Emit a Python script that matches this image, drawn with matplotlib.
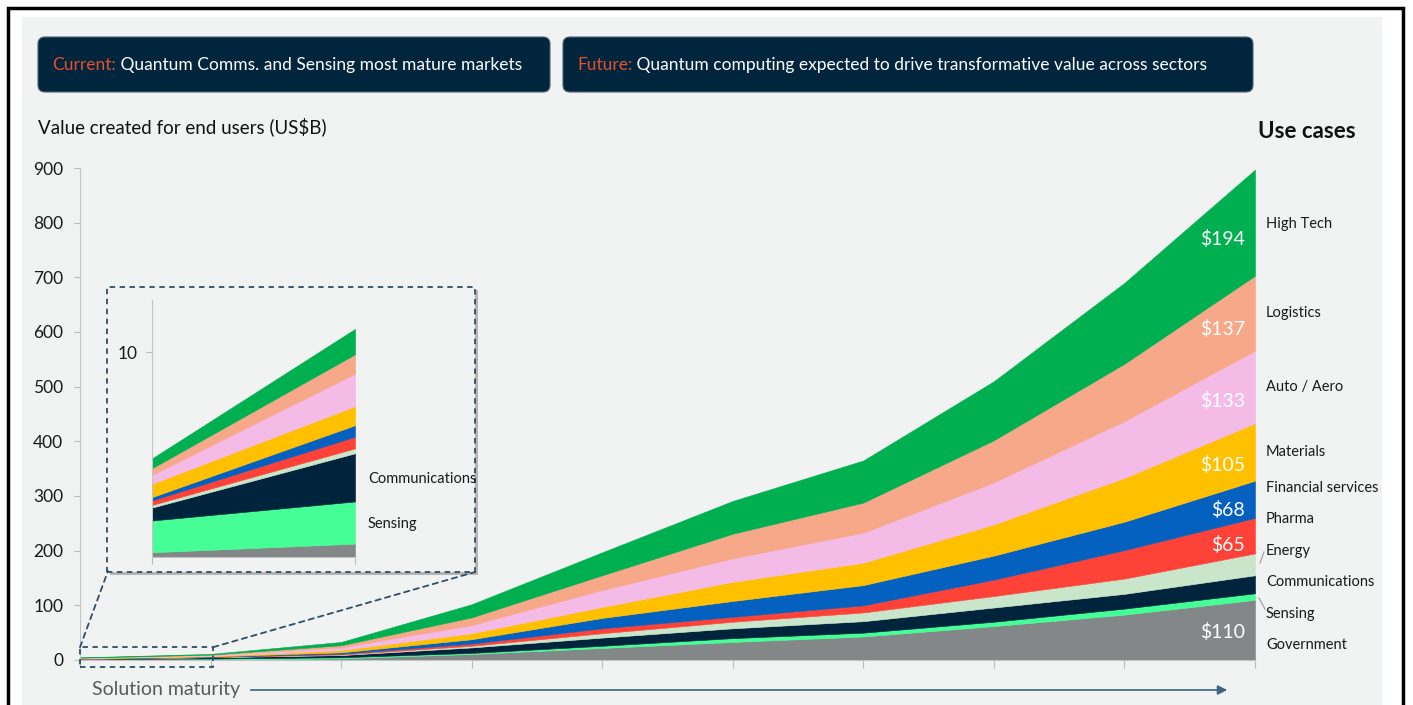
import matplotlib
matplotlib.use('Agg')
import matplotlib.pyplot as plt
import matplotlib.patheffects as pe
from matplotlib.patches import Rectangle, FancyBboxPatch, ConnectionPatch
from matplotlib.lines import Line2D
from matplotlib.transforms import IdentityTransform

plt.rcParams['font.family'] = ['Lato', 'DejaVu Sans']

# Daten: Wert fuer Endnutzer (Mrd. US$) je Reifestufe
stage = list(range(10))
use_cases = ['Government', 'Sensing', 'Communications', 'Energy', 'Pharma',
             'Financial services', 'Materials', 'Auto / Aero', 'Logistics', 'High Tech']
government = [0.23, 0.65, 3, 11, 22, 33, 43, 62, 83, 110]
sensing = [1.55, 2.06, 2, 2, 4, 7, 7, 8, 11, 12]
communications = [0.63, 2.35, 4, 10, 15, 18, 21, 26, 27, 33]
energy = [0.13, 0.24, 1, 3, 8, 12, 16, 21, 28, 40]
pharma = [0.22, 0.57, 1.5, 4, 9, 9, 13, 30, 52, 65]
financial = [0.16, 0.56, 2.5, 8, 19, 29, 37, 44, 52, 68]
materials = [0.65, 0.93, 4, 11, 20, 35, 41, 57, 80, 105]
auto_aero = [0.43, 1.59, 5, 15, 31, 43, 55, 77, 104, 133]
logistics = [0.33, 0.94, 4, 14, 27, 45, 55, 77, 105, 137]
high_tech = [0.48, 1.24, 6, 24, 42, 60, 77, 108, 148, 194]
series = [government, sensing, communications, energy, pharma,
          financial, materials, auto_aero, logistics, high_tech]

colors = ['#848788', '#45FF96', '#00243C', '#C9E6CA', '#FF4238',
          '#0461BF', '#FFC000', '#F3BBE5', '#F7A889', '#00B050']

# welche Endwerte beschriftet werden, und wo im Band (Anteil von unten)
show_value = [True, False, False, False, True, True, True, True, True, True]
value_frac = [0.46, 0, 0, 0, 0.23, 0.2, 0.27, 0.3, 0.29, 0.35]
# Lage der Namen rechts neben der Flaeche (in Mrd. US$)
name_y = [27, 84, 143, 199, 258, 314, 380, 499, 634, 798]

W, H = 1413, 705
def fx(x):
    return x / W
def fy(y):
    return 1 - y / H

fig = plt.figure(figsize=(W / 100, H / 100), dpi=100)
fig.patch.set_facecolor('white')
fig.add_artist(Rectangle((fx(22), 0), fx(1382 - 22), (H - 17) / H, transform=fig.transFigure,
                         facecolor='#F1F2F2', edgecolor='none', zorder=-2))
fig.add_artist(Rectangle((fx(8), fy(720)), fx(1403 - 8), (720 - 8) / H, transform=fig.transFigure,
                         facecolor='none', edgecolor='black', lw=2.5, zorder=-1))

ax = fig.add_axes([fx(80), fy(660), (1255 - 80) / W, (660 - 168) / H])
ax.set_facecolor('none')

# Kopfzeilen-Kaesten
headers = [(38, 550, 'Current:', ' Quantum Comms. and Sensing most mature markets'),
           (563, 1253, 'Future:', ' Quantum computing expected to drive transformative value across sectors')]
for x0, x1, key, rest in headers:
    box = FancyBboxPatch((x0, H - 92), x1 - x0, 55, boxstyle='round,pad=0,rounding_size=7',
                         transform=IdentityTransform(), facecolor='#00253D', edgecolor='#4C6275',
                         lw=0.8, zorder=-0.5)
    fig.add_artist(box)
    t1 = fig.text(fx(x0 + 14), fy(65), key, color='#E8502A', size=12.5, va='center')
    ax.annotate(rest, xy=(1, 0), xycoords=t1, va='bottom', ha='left', color='white',
                size=12.5, annotation_clip=False)

polys = ax.stackplot(stage, series, colors=colors, lw=0.4)
for p in polys:
    p.set_edgecolor(p.get_facecolor())

ax.set_xlim(0, 9)
ax.set_ylim(0, 900)
ax.set_yticks(range(0, 901, 100))
ax.set_xticks(stage)
ax.set_xticklabels([])
for s in ['top', 'right']:
    ax.spines[s].set_visible(False)
for s in ['left', 'bottom']:
    ax.spines[s].set_color('#C4C4C4')
ax.tick_params(axis='y', colors='#BDBDBD', labelcolor='#1A1A1A', labelsize=12.5, length=4, pad=8)
ax.tick_params(axis='x', colors='#BDBDBD', length=6)

# Endwerte und Namen
bottom = 0
for name, vals, show, frac, ny in zip(use_cases, series, show_value, value_frac, name_y):
    v = vals[-1]
    if show:
        ax.annotate(f'${v}', xy=(9, bottom + frac * v), xytext=(-10, 0), textcoords='offset pixels',
                    ha='right', va='center', color='white', size=14, annotation_clip=False)
    ax.annotate(name, xy=(9, ny), xytext=(11, 0), textcoords='offset pixels',
                ha='left', va='center', color='#1A1A1A', size=10.5, annotation_clip=False)
    bottom += v

for (xa, ya), (xb, yb) in [((1260, 563), (1264, 552)), ((1259, 598), (1265, 609))]:
    fig.add_artist(Line2D([fx(xa), fx(xb)], [fy(ya), fy(yb)], transform=fig.transFigure,
                          color='#9A9A9A', lw=0.8))

fig.text(fx(38), fy(127), 'Value created for end users (US$B)', size=13.5, va='center', color='#111111')
fig.text(fx(1258), fy(131), 'Use cases', size=16, weight='bold', va='center', color='#111111')

fig.text(fx(92), fy(690), 'Solution maturity', size=14, va='center', color='#5A5A5A')
fig.add_artist(matplotlib.patches.FancyArrowPatch((fx(248), fy(690)), (fx(1230), fy(690)),
                                                  transform=fig.transFigure, arrowstyle='-|>',
                                                  mutation_scale=14, color='#3B6584', lw=1.2))

# Ausschnitt fuer die ersten beiden Stufen
dash = (0, (3, 2.5))
frame_col = '#2F4F66'
fig.add_artist(Rectangle((fx(107), fy(572)), fx(475 - 107), (572 - 287) / H, transform=fig.transFigure,
                         facecolor='#F1F2F2', edgecolor='none', zorder=1,
                         path_effects=[pe.SimplePatchShadow(offset=(2.5, -2.5), shadow_rgbFace='#777777', alpha=0.5),
                                       pe.Normal()]))
fig.add_artist(Rectangle((fx(107), fy(572)), fx(475 - 107), (572 - 287) / H, transform=fig.transFigure,
                         facecolor='none', edgecolor=frame_col, lw=1.3, ls=dash, zorder=1.1))
ax.add_patch(Rectangle((0, -13), 1.02, 36.5, facecolor='none', edgecolor=frame_col, lw=1.3,
                       ls=dash, clip_on=False, zorder=5))
for xy_a, xy_b in [((0, 23.5), (108, 571)), ((1.02, 23.5), (475, 572))]:
    fig.add_artist(ConnectionPatch(xyA=xy_a, coordsA=ax.transData, xyB=(fx(xy_b[0]), fy(xy_b[1])),
                                   coordsB=fig.transFigure, color=frame_col, lw=1.3, ls=dash, zorder=1.1))

ax_in = fig.add_axes([fx(152), fy(557), (355 - 152) / W, (557 - 300) / H], zorder=2)
ax_in.set_facecolor('none')
polys_in = ax_in.stackplot(stage[:2], [s[:2] for s in series], colors=colors, lw=0.4)
for p in polys_in:
    p.set_edgecolor(p.get_facecolor())
ax_in.set_xlim(0, 1)
ax_in.set_ylim(0, 12.54)
ax_in.set_yticks([10])
ax_in.set_xticks([0, 1])
ax_in.set_xticklabels([])
for s in ['top', 'right']:
    ax_in.spines[s].set_visible(False)
for s in ['left', 'bottom']:
    ax_in.spines[s].set_color('#C4C4C4')
ax_in.tick_params(axis='y', colors='#BDBDBD', labelcolor='#1A1A1A', labelsize=12.5, length=4, pad=6)
ax_in.tick_params(axis='x', colors='#BDBDBD', length=5)
for name, yv in [('Communications', 3.8), ('Sensing', 1.6)]:
    ax_in.annotate(name, xy=(1, yv), xytext=(13, 0), textcoords='offset pixels',
                   ha='left', va='center', color='#1A1A1A', size=10.5, annotation_clip=False)

fig.savefig('out.png', dpi=100, facecolor='white')
